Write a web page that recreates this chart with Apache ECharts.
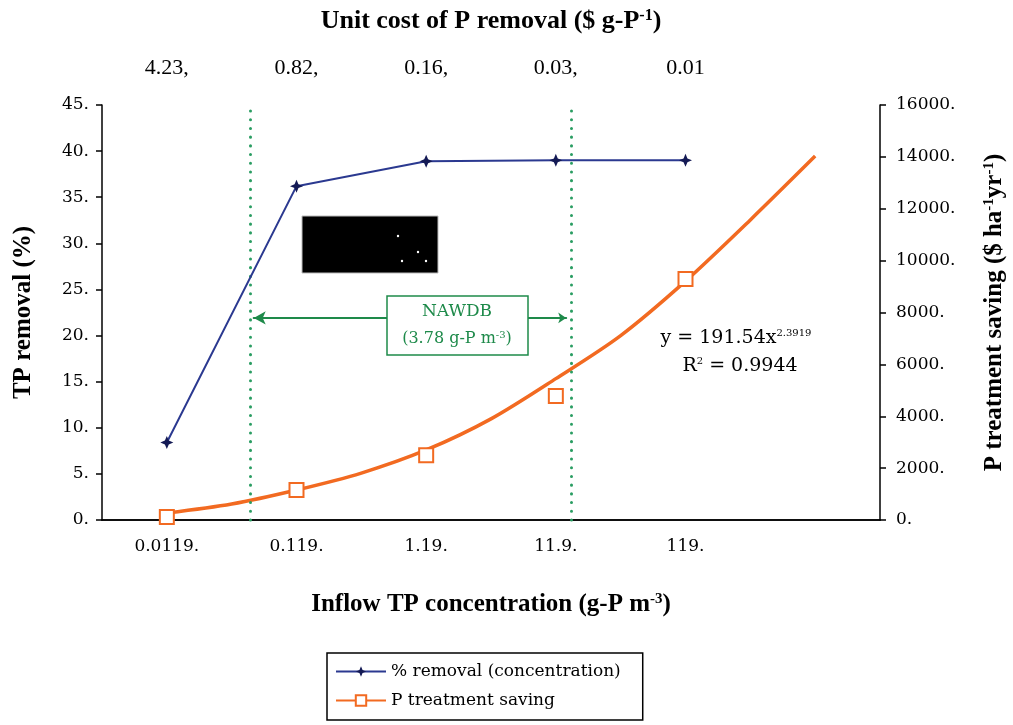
<!DOCTYPE html>
<html>
<head>
<meta charset="utf-8">
<script src="https://cdn.jsdelivr.net/npm/echarts@6/dist/echarts.min.js"></script>
<style>
  html, body { margin:0; padding:0; background:#fff; }
  #chart { width:1013px; height:725px; }
</style>
</head>
<body>
<div id="chart"></div>
<script>
// categories (one slot per decade, last one empty)
var concLabels = ['0.0119', '0.119', '1.19', '11.9', '119', ''];
var costLabels = ['4.23', '0.82', '0.16', '0.03', '0.01', ''];

// % removal (left axis)
var removalPct = [8.4, 36.2, 38.9, 39.0, 39.0];
// P treatment saving, measured points (right axis)
var savingPts = [120, 1160, 2500, 4780, 9290];

// power trendline at half-slot steps
var trendX = [1, 1.5, 2, 2.5, 3, 3.5, 4, 4.5, 5, 5.5, 6];
var trendY = [270, 617, 1157, 1810, 2700, 3900, 5450, 7110, 9210, 11570, 14030];

// NAWDB band edges (slot units) and the arrow level on right axis
var nawdbEdges = [1.64, 4.12];
var arrowLevel = 7790;

var serif = '"Liberation Serif", serif';
var wide = '"DejaVu Serif", serif';
var blue = '#2b3990';
var orange = '#f26a21';
var green = '#1e8a4a';

var chart = echarts.init(document.getElementById('chart'));

function dot(v){ return v === '' ? '' : v + '.'; }

var supStyle = {
  a:{ fontFamily:serif, fontWeight:'bold', fontSize:25, color:'#000' },
  s:{ fontFamily:serif, fontWeight:'bold', fontSize:15, color:'#000', verticalAlign:'bottom', padding:[0,0,11,0] }
};
var supTop = {
  a:{ fontFamily:serif, fontWeight:'bold', fontSize:26, color:'#000' },
  s:{ fontFamily:serif, fontWeight:'bold', fontSize:16, color:'#000', verticalAlign:'bottom', padding:[0,0,11,0] }
};

var tickFont = { fontFamily:wide, fontSize:17, color:'#000' };

var options = {
  backgroundColor:'#fff',
  animation:false,
  grid:{ left:102, right:133, top:105, bottom:205, outerBoundsMode:'none', containLabel:false },
  legend:{
    orient:'vertical',
    left:327, top:653,
    borderColor:'#000', borderWidth:1.5,
    padding:[10,22,11,8],
    itemGap:12,
    itemWidth:50, itemHeight:13,
    textStyle:{ fontFamily:wide, fontSize:17, color:'#000' },
    data:[
      { name:'% removal (concentration)' },
      { name:'P treatment saving', lineStyle:{ opacity:1, width:2, color:orange } }
    ]
  },
  xAxis:[
    {
      type:'category', position:'bottom', data:concLabels,
      axisLine:{ lineStyle:{ color:'#000', width:1.5 } },
      axisTick:{ length:6, lineStyle:{ color:'#000', width:1.5 } },
      axisLabel:Object.assign({ margin:18, formatter:dot }, tickFont),
      name:'{a|Inflow TP concentration (g-P m}{s|-3}{a|)}',
      nameLocation:'middle', nameGap:72,
      nameTextStyle:{ rich:supStyle }
    },
    {
      type:'category', position:'top', data:costLabels,
      axisLine:{ lineStyle:{ color:'#000', width:1.5 } },
      axisTick:{ length:6, lineStyle:{ color:'#000', width:1.5 } },
      axisLabel:{ fontFamily:serif, fontSize:22, color:'#000', margin:26,
        formatter:function(v){ return v === '0.01' ? v : (v === '' ? '' : v + ','); } },
      name:'{a|Unit cost of P removal ($ g-P}{s|-1}{a|)}',
      nameLocation:'middle', nameGap:70,
      nameTextStyle:{ rich:supTop }
    },
    {
      type:'value', min:0.5, max:6.5, show:false
    }
  ],
  yAxis:[
    {
      type:'value', min:0, max:45, interval:5, position:'left',
      splitLine:{ show:false },
      axisLine:{ show:true, lineStyle:{ color:'#000', width:1.5 } },
      axisTick:{ show:true, length:6, lineStyle:{ color:'#000', width:1.5 } },
      axisLabel:Object.assign({ margin:13, formatter:function(v){ return v + '.'; } }, tickFont),
      name:'TP removal (%)', nameLocation:'middle', nameGap:66, nameRotate:90,
      nameTextStyle:{ fontFamily:serif, fontWeight:'bold', fontSize:25, color:'#000' }
    },
    {
      type:'value', min:0, max:16000, interval:2000, position:'right',
      splitLine:{ show:false },
      axisLine:{ show:true, lineStyle:{ color:'#000', width:1.5 } },
      axisTick:{ show:true, length:6, lineStyle:{ color:'#000', width:1.5 } },
      axisLabel:Object.assign({ margin:16, formatter:function(v){ return v + '.'; } }, tickFont),
      name:'{a|P treatment saving ($ ha}{s|-1}{a|yr}{s|-1}{a|)}',
      nameLocation:'middle', nameGap:102, nameRotate:90,
      nameTextStyle:{ rich:supStyle }
    }
  ],
  series:[
    {
      name:'% removal (concentration)',
      type:'line', xAxisIndex:0, yAxisIndex:0,
      data:removalPct,
      symbol:'path://M0,-10 L3,-3 L10,0 L3,3 L0,10 L-3,3 L-10,0 L-3,-3 Z',
      symbolSize:13,
      itemStyle:{ color:'#141a55' },
      lineStyle:{ color:blue, width:2 },
      z:5
    },
    {
      name:'P treatment saving',
      type:'line', xAxisIndex:0, yAxisIndex:1,
      data:savingPts,
      symbol:'emptyRect', symbolSize:14,
      itemStyle:{ color:orange, borderWidth:2 },
      lineStyle:{ opacity:0, width:2, color:orange },
      z:4
    },
    {
      name:'trend',
      type:'line', xAxisIndex:2, yAxisIndex:1,
      data:trendX.map(function(x, i){ return [x, trendY[i]]; }),
      smooth:0.3, symbol:'none', silent:true,
      lineStyle:{ color:orange, width:3.5 },
      z:3,
      markLine:{
        silent:true,
        symbol:['none','none'],
        label:{ show:false },
        lineStyle:{ color:'#2a9d62', type:[0.1,8.6], width:3, cap:'round' },
        data:[
          { xAxis:nawdbEdges[0] },
          { xAxis:nawdbEdges[1] },
          [
            { coord:[nawdbEdges[0] + 0.03, arrowLevel], symbol:'arrow', symbolSize:[10,12],
              lineStyle:{ color:green, type:'solid', width:2 } },
            { coord:[2.71, arrowLevel], symbol:'none' }
          ],
          [
            { coord:[3.79, arrowLevel], symbol:'none',
              lineStyle:{ color:green, type:'solid', width:2 } },
            { coord:[nawdbEdges[1] - 0.04, arrowLevel], symbol:'arrow', symbolSize:[8,8] }
          ]
        ]
      }
    }
  ],
  graphic:[
    // black patch left in the scan
    { type:'rect', shape:{ x:302, y:216, width:136, height:57 },
      style:{ fill:'#000', stroke:'#bbb', lineWidth:1 } },
    { type:'circle', shape:{ cx:398, cy:236, r:1.2 }, style:{ fill:'#fff' } },
    { type:'circle', shape:{ cx:418, cy:252, r:1.2 }, style:{ fill:'#fff' } },
    { type:'circle', shape:{ cx:402, cy:261, r:1.2 }, style:{ fill:'#fff' } },
    { type:'circle', shape:{ cx:426, cy:261, r:1.2 }, style:{ fill:'#fff' } },
    // NAWDB box
    { type:'rect', shape:{ x:387, y:296, width:141, height:59 },
      style:{ fill:'#fff', stroke:green, lineWidth:1.5 }, z:10 },
    { type:'text', z:11,
      style:{ x:457, y:312, text:'NAWDB', fill:green, font:'17px ' + wide, align:'center', verticalAlign:'middle' } },
    { type:'text', z:11,
      style:{ x:457, y:339, text:'{t|(3.78 g-P m}{u|-3}{t|)}', align:'center', verticalAlign:'middle',
        rich:{ t:{ fill:green, fontFamily:wide, fontSize:16 }, u:{ fill:green, fontFamily:wide, fontSize:10, verticalAlign:'bottom', padding:[0,0,8,0] } } } },
    // trendline equation
    { type:'text', z:11,
      style:{ x:736, y:338, text:'{t|y = 191.54x}{u|2.3919}', align:'center', verticalAlign:'middle',
        rich:{ t:{ fill:'#000', fontFamily:wide, fontSize:19 }, u:{ fill:'#000', fontFamily:wide, fontSize:10, verticalAlign:'bottom', padding:[0,0,10,0] } } } },
    { type:'text', z:11,
      style:{ x:740, y:366, text:'{t|R}{u|2}{t| = 0.9944}', align:'center', verticalAlign:'middle',
        rich:{ t:{ fill:'#000', fontFamily:wide, fontSize:19 }, u:{ fill:'#000', fontFamily:wide, fontSize:10, verticalAlign:'bottom', padding:[0,0,10,0] } } } }
  ]
};

chart.setOption(options);
</script>
</body>
</html>
